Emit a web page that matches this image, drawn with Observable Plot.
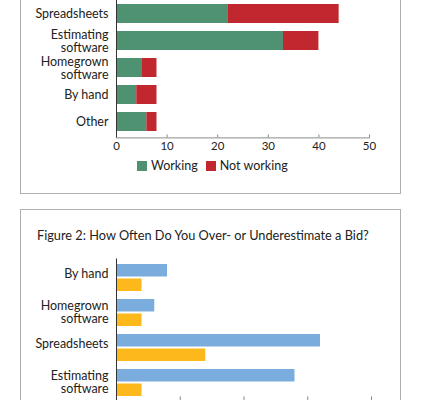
<!DOCTYPE html>
<html>
<head>
<meta charset="utf-8">
<script src="https://cdn.jsdelivr.net/npm/d3@7"></script>
<script src="https://cdn.jsdelivr.net/npm/@observablehq/plot@0.6"></script>
<style>
  body { margin: 0; background: #fff; }
  #page { position: relative; width: 430px; height: 400px; overflow: hidden; background: #fff; font-family: Lato, sans-serif; color: #222; }
  .panel { position: absolute; left: 20px; width: 379px; border: 1.5px solid #b0b0b0; background: #fff; }
  .abs { position: absolute; left: 0; }
  #title2 { position: absolute; left: 37px; top: 227px; font-size: 12.75px; line-height: 16px; white-space: nowrap; }
  #legend1 { position: absolute; left: 137px; top: 149px; }
  .lg-swatch > svg { margin-right: 4px !important; }
  .lg-swatch { margin-right: 8px !important; }
</style>
</head>
<body>
<div id="page">
  <div class="panel" style="top:-30px; height:222px;"></div>
  <div class="panel" style="top:209px; height:260px;"></div>
  <div id="chart1" class="abs" style="top:-40px;"></div>
  <div id="legend1"></div>
  <div id="title2">Figure 2: How Often Do You Over- or Underestimate a Bid?</div>
  <div id="chart2" class="abs" style="top:209px;"></div>
</div>
<script>
// Figure 1: estimating method, split by whether it is working
const methods1 = ["Spreadsheets", "Estimating software", "Homegrown software", "By hand", "Other"];
const working = [22, 33, 5, 4, 6];
const notWorking = [22, 7, 3, 4, 2];
const statusNames = ["Working", "Not working"];
const ticks1 = [0, 10, 20, 30, 40, 50];

// Figure 2: how often bids are over- or underestimated, by method
const methods2 = ["By hand", "Homegrown software", "Spreadsheets", "Estimating software"];
const seriesNames = ["Series A", "Series B"];
const seriesA = [8, 6, 32, 28];
const seriesB = [4, 4, 14, 4];
const ticks2 = [0, 10, 20, 30, 40];

const fig1 = methods1.flatMap((m, i) => [
  {method: m, status: statusNames[0], value: working[i]},
  {method: m, status: statusNames[1], value: notWorking[i]}
]);
const fig2 = methods2.flatMap((m, i) => [
  {method: m, series: seriesNames[0], value: seriesA[i]},
  {method: m, series: seriesNames[1], value: seriesB[i]}
]);

// two-word software labels wrap onto a second line
const isWrapped = d => d.includes(" software");
const wrap = d => d.replace(" software", "\nsoftware");

const baseStyle = {fontFamily: "Lato, sans-serif", fontSize: "12.5px", color: "#222", background: "transparent", overflow: "visible"};
const labelFont = {fontSize: 12.5, lineHeight: 1.05};

const chart1 = Plot.plot({
  width: 430,
  height: 202.4,
  marginLeft: 116,
  marginRight: 61,
  marginTop: 38,
  marginBottom: 25,
  style: baseStyle,
  x: {domain: [0, 50], axis: null},
  y: {domain: methods1, paddingInner: 0.3, paddingOuter: 0.14, axis: null},
  color: {domain: statusNames, range: ["#4e9271", "#c1272f"]},
  marks: [
    Plot.barX(fig1, {x: "value", y: "method", fill: "status"}),
    Plot.axisY({tickSize: 0, tickPadding: 8, ...labelFont, tickFormat: wrap, label: null}),
    Plot.axisX({ticks: ticks1, tickSize: 0, tickPadding: 4, fontSize: 11.5, label: null}),
    Plot.axisX({ticks: ticks1, tickSize: 3, dy: -3, text: null, stroke: "#8a8a8a", label: null}),
    Plot.frame({anchor: "bottom", stroke: "#8a8a8a"}),
    Plot.ruleX([0], {stroke: "#333"})
  ]
});
document.getElementById("chart1").appendChild(chart1);

const legend1 = Plot.legend({
  color: {domain: statusNames, range: ["#4e9271", "#c1272f"]},
  legend: "swatches",
  swatchSize: 10,
  className: "lg",
  style: {fontFamily: "Lato, sans-serif", fontSize: "12.5px", color: "#222"}
});
document.getElementById("legend1").appendChild(legend1);

// tick values sit below the visible area, so only the tick marks are drawn
const chart2 = Plot.plot({
  width: 430,
  height: 221.4,
  marginLeft: 116,
  marginRight: 59,
  marginTop: 49.4,
  marginBottom: 30,
  style: baseStyle,
  x: {domain: [0, 40], axis: null},
  y: {domain: methods2, paddingInner: 0.24, paddingOuter: 0.12, axis: null},
  color: {domain: seriesNames, range: ["#7aaddd", "#fdb81c"]},
  marks: [
    Plot.barX(fig2.filter(d => d.series === seriesNames[0]), {x: "value", y: "method", fill: "series", insetBottom: 14.5}),
    Plot.barX(fig2.filter(d => d.series === seriesNames[1]), {x: "value", y: "method", fill: "series", insetTop: 14.5}),
    Plot.axisY(methods2.filter(d => !isWrapped(d)), {tickSize: 0, tickPadding: 8, ...labelFont, dy: -4, label: null}),
    Plot.axisY(methods2.filter(isWrapped), {tickSize: 0, tickPadding: 8, ...labelFont, tickFormat: wrap, dy: -1, label: null}),
    Plot.axisX({ticks: ticks2, tickSize: 4, dy: -4, text: null, stroke: "#8a8a8a", label: null}),
    Plot.frame({anchor: "bottom", stroke: "#8a8a8a"}),
    Plot.ruleX([0], {stroke: "#333"})
  ]
});
document.getElementById("chart2").appendChild(chart2);
</script>
</body>
</html>
